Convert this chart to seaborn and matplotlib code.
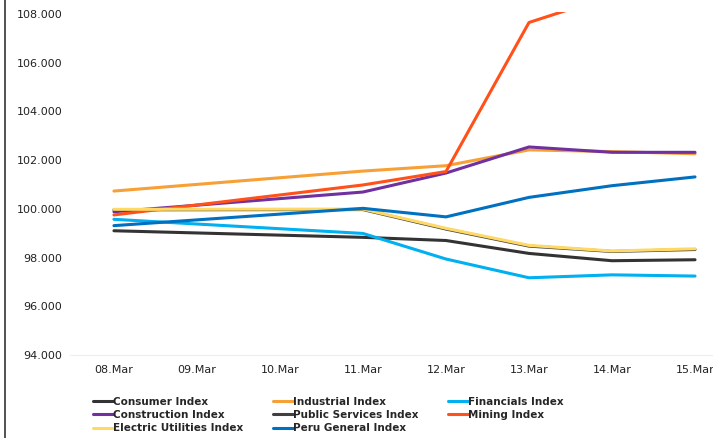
import pandas as pd
import seaborn as sns
from matplotlib import pyplot as plt
from matplotlib.lines import Line2D

# trading days with data (09 and 10 Mar have no values)
dates = ["2024-03-08", "2024-03-11", "2024-03-12", "2024-03-13", "2024-03-14", "2024-03-15"]
tick_days = ["2024-03-08", "2024-03-09", "2024-03-10", "2024-03-11",
             "2024-03-12", "2024-03-13", "2024-03-14", "2024-03-15"]
tick_labels = ["08.Mar", "09.Mar", "10.Mar", "11.Mar", "12.Mar", "13.Mar", "14.Mar", "15.Mar"]

consumer = [99.10, 98.83, 98.70, 98.17, 97.87, 97.91]
industrial = [100.73, 101.55, 101.77, 102.42, 102.35, 102.26]
financials = [99.57, 98.99, 97.94, 97.17, 97.29, 97.24]
construction = [99.88, 100.69, 101.47, 102.54, 102.32, 102.32]
public_services = [99.96, 99.97, 99.17, 98.47, 98.25, 98.33]
mining = [99.75, 100.98, 101.53, 107.65, 108.75, 109.0]
electric = [99.98, 99.99, 99.20, 98.50, 98.27, 98.36]
peru_general = [99.31, 100.02, 99.67, 100.47, 100.95, 101.31]

names = ["Consumer Index", "Industrial Index", "Financials Index", "Construction Index",
         "Public Services Index", "Mining Index", "Electric Utilities Index", "Peru General Index"]
series = [consumer, industrial, financials, construction, public_services, mining, electric, peru_general]
colors = ["#333333", "#F7A035", "#00B0F0", "#7030A0", "#404040", "#FF5119", "#FFD966", "#0070C0"]

frames = []
for name, vals in zip(names, series):
    frames.append(pd.DataFrame({"date": pd.to_datetime(dates), "value": vals, "index": name}))
df = pd.concat(frames, ignore_index=True)

sns.set_style("white")
plt.rcParams['font.family'] = ['DejaVu Sans']

fig = plt.figure(figsize=(7.13, 4.38), dpi=100)
ax = fig.add_axes([70 / 713, 83 / 438, 643 / 713, 343 / 438])

sns.lineplot(data=df, x="date", y="value", hue="index", hue_order=names,
             palette=dict(zip(names, colors)), linewidth=2.2, ax=ax)

ticks = pd.to_datetime(tick_days)
ax.set_xticks(ticks)
ax.set_xticklabels(tick_labels, fontsize=8, color="#222222")
ax.set_xlim(ticks[0] - pd.Timedelta(hours=12.7), ticks[-1] + pd.Timedelta(hours=5.2))
ax.set_ylim(94, 108.08)
ax.set_yticks([94, 96, 98, 100, 102, 104, 106, 108])
ax.set_yticklabels([f"{v:.3f}" for v in [94, 96, 98, 100, 102, 104, 106, 108]],
                   fontsize=8, color="#222222")
ax.tick_params(axis="x", length=0, pad=7.5)
ax.tick_params(axis="y", length=0, pad=5.5)
ax.set_xlabel("")
ax.set_ylabel("")
for side in ["top", "right", "left"]:
    ax.spines[side].set_visible(False)
ax.spines["bottom"].set_color("#eeeeee")
ax.spines["bottom"].set_linewidth(0.8)

# legend laid out row by row like the original
handles, labels = ax.get_legend_handles_labels()
order = [0, 3, 6, 1, 4, 7, 2, 5]
ax.legend([handles[i] for i in order], [labels[i] for i in order], ncol=3,
          loc="upper left", bbox_to_anchor=(93 / 713, 1 - 397 / 438),
          bbox_transform=fig.transFigure, frameon=False, borderpad=0, borderaxespad=0,
          handlelength=1.95, handletextpad=0.0, columnspacing=2.8, labelspacing=0.3,
          prop={"size": 7.5, "weight": "bold"})

fig.add_artist(Line2D([4.5 / 713, 4.5 / 713], [0, 1], color="#333333", linewidth=1.2))

fig.savefig("out.png", dpi=100)
